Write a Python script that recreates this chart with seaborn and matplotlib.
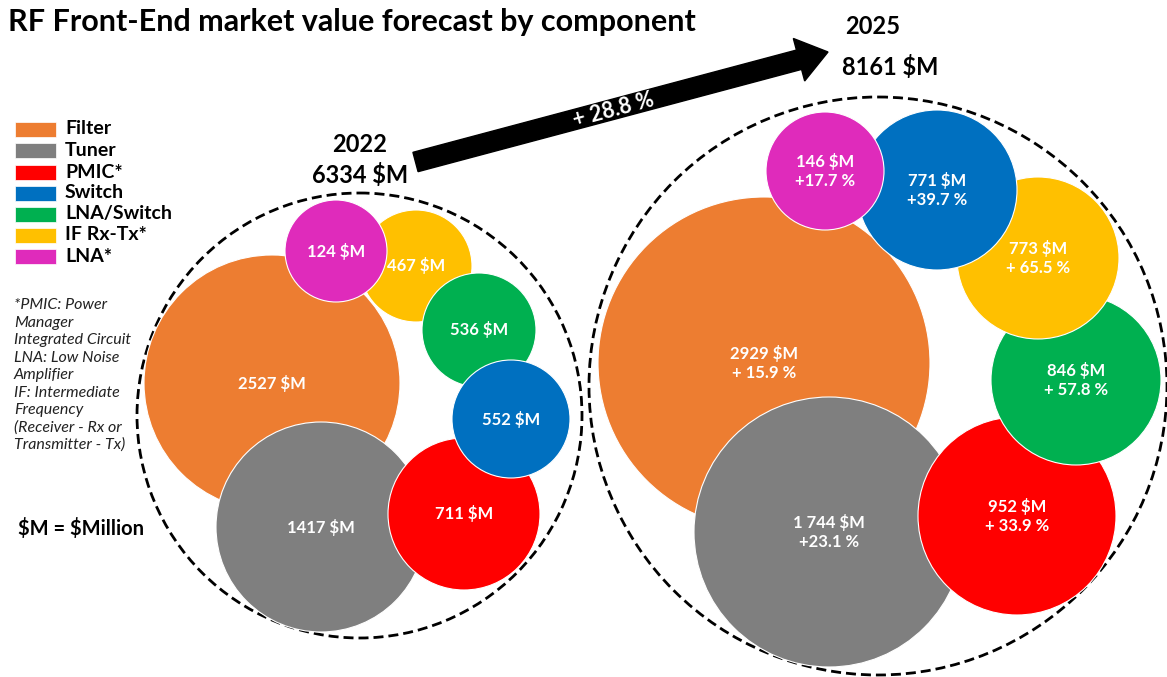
import numpy as np
import pandas as pd
import matplotlib
matplotlib.use("Agg")
import matplotlib.pyplot as plt
from matplotlib.patches import Circle, FancyArrow, Rectangle
import seaborn as sns

# ---------------- data ----------------
components = ["Filter", "Tuner", "PMIC*", "Switch", "LNA/Switch", "IF Rx-Tx*", "LNA*"]
value_2022 = [2527, 1417, 711, 552, 536, 467, 124]
value_2025 = [2929, 1744, 952, 771, 846, 773, 146]
growth_2025 = [15.9, 23.1, 33.9, 39.7, 57.8, 65.5, 17.7]
total_2022 = 6334
total_2025 = 8161
total_growth = 28.8
years = ["2022", "2025"]
footnote = ["*PMIC: Power", "Manager", "Integrated Circuit", "LNA: Low Noise",
            "Amplifier", "IF: Intermediate", "Frequency", "(Receiver - Rx or",
            "Transmitter - Tx)"]

# ---------------- style / layout ----------------
colors = ["#ED7D31", "#7F7F7F", "#FF0000", "#0070C0", "#00B050", "#FFC000", "#DF2BBB"]
center_2022 = [(272, 383), (321, 527), (464, 514), (511, 419), (479, 330), (416, 266), (336, 251)]
radius_2022 = [128, 105, 76, 59, 57, 56, 51]
center_2025 = [(764, 363), (829, 532), (1017, 516), (937, 190), (1076, 380), (1038, 258), (825, 171)]
radius_2025 = [166, 135, 99, 80, 85, 81, 59]
order_2022 = [0, 1, 2, 5, 4, 3, 6]
order_2025 = [0, 1, 2, 4, 5, 3, 6]
plus_space_2025 = [True, False, True, False, True, True, False]
thousand_space_2025 = [False, True, False, False, False, False, False]
W, H = 1167, 677
DPI = 100

sns.set_theme(style="white")
plt.rcParams["font.family"] = ["Lato", "DejaVu Sans"]

fig = plt.figure(figsize=(W / DPI, H / DPI), dpi=DPI)
ax = fig.add_axes([0, 0, 1, 1])

rows = []
for order, centers, radii, vals, yr in [(order_2022, center_2022, radius_2022, value_2022, years[0]),
                                        (order_2025, center_2025, radius_2025, value_2025, years[1])]:
    for i in order:
        rows.append(dict(year=yr, component=components[i], value=vals[i],
                         x=centers[i][0], y=centers[i][1],
                         s=(2 * radii[i] * 72 / DPI) ** 2))
df = pd.DataFrame(rows)

sns.scatterplot(data=df, x="x", y="y", hue="component",
                palette=dict(zip(components, colors)), s=df["s"].values,
                linewidth=0.8, edgecolor="white", legend=False, ax=ax, zorder=3)

ax.set_xlim(0, W)
ax.set_ylim(H, 0)
ax.axis("off")

# dashed enclosing circles
for (cx, cy, r) in [(359.5, 415.5, 222.5), (878, 386, 289)]:
    ax.add_patch(Circle((cx, cy), r, fill=False, edgecolor="black", lw=2.0,
                        linestyle=(0, (3.6, 1.8)), zorder=2))

lbl_font = dict(color="white", fontweight="bold", fontsize=12, ha="center",
                va="center", zorder=5, parse_math=False)
# 2022 labels
for i in range(len(components)):
    ax.text(center_2022[i][0], center_2022[i][1], f"{value_2022[i]} $M", **lbl_font)
# 2025 labels
for i in range(len(components)):
    v = f"{value_2025[i]:,}".replace(",", " ") if thousand_space_2025[i] else f"{value_2025[i]}"
    g = ("+ " if plus_space_2025[i] else "+") + f"{growth_2025[i]} %"
    ax.text(center_2025[i][0], center_2025[i][1], f"{v} $M\n{g}", linespacing=1.3, **lbl_font)

# title
ax.text(8, 22, "RF Front-End market value forecast by component", fontsize=22,
        fontweight="bold", ha="left", va="center", color="black")

# year totals
hdr = dict(fontsize=17, fontweight="bold", ha="center", va="center", color="black", parse_math=False)
ax.text(360, 144, years[0], **hdr)
ax.text(360, 175, f"{total_2022} $M", **hdr)
ax.text(873, 27, years[1], **hdr)
ax.text(890, 67, f"{total_2025} $M", **hdr)

# growth arrow
x0, y0, x1, y1 = 415.5, 162, 828, 52
ax.add_patch(FancyArrow(x0, y0, x1 - x0, y1 - y0, width=20, head_width=44, head_length=30,
                        length_includes_head=True, color="black", zorder=4))
ang = np.degrees(np.arctan2(y0 - y1, x1 - x0))
ax.text(613, 110, f"+ {total_growth} %", rotation=ang, rotation_mode="anchor",
        ha="center", va="center", color="white", fontsize=15.5, fontweight="bold", zorder=5,
        parse_math=False)

# legend
leg_y = [129, 150, 172, 193, 214, 235, 256]
for i, name in enumerate(components):
    ax.add_patch(Rectangle((15, leg_y[i] - 7.5), 41, 15, facecolor=colors[i],
                           edgecolor="white", lw=0.5, zorder=3))
    ax.text(65, leg_y[i], name, fontsize=14, fontweight="bold", ha="left", va="center",
            color="black")

# footnote
foot_y = [305, 323, 340, 358, 375, 393, 410, 428, 445]
for yy, line in zip(foot_y, footnote):
    ax.text(14, yy, line, fontsize=11.5, fontstyle="italic", ha="left", va="center",
            color="#222222")

ax.text(18, 528, "$M = $Million", fontsize=14.5, fontweight="bold", ha="left", va="center",
        color="black", parse_math=False)

fig.savefig("out.png", dpi=DPI)
